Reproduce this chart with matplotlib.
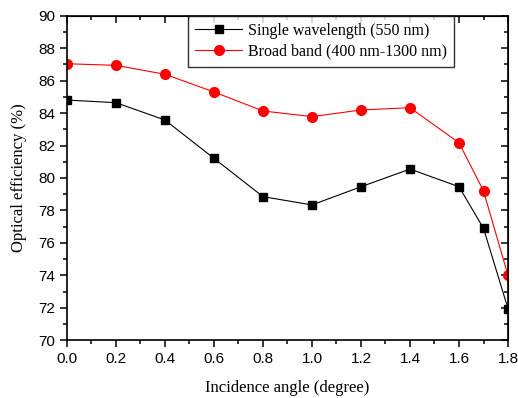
import matplotlib
matplotlib.use('Agg')
import matplotlib.pyplot as plt
from matplotlib.ticker import MultipleLocator

# incidence angle (degree)
angles = [0.0, 0.2, 0.4, 0.6, 0.8, 1.0, 1.2, 1.4, 1.6, 1.7, 1.8]
single_wl = [84.8, 84.64, 83.57, 81.21, 78.85, 78.34, 79.46, 80.55, 79.46, 76.9, 71.95]
broad_band = [87.04, 86.94, 86.39, 85.3, 84.13, 83.78, 84.19, 84.33, 82.17, 79.2, 74.0]

serif = 'Liberation Serif'
sans = 'Liberation Sans'

fig = plt.figure(figsize=(5.18, 3.98), dpi=100)
ax = fig.add_axes([0.1293, 0.145, 0.8514, 0.8156])

ax.plot(angles, single_wl, color='black', linewidth=0.8, marker='s', markersize=6,
        label='Single wavelength (550 nm)')
ax.plot(angles, broad_band, color='red', linewidth=0.8, marker='o', markersize=7,
        label='Broad band (400 nm-1300 nm)')

ax.set_xlim(0, 1.8)
ax.set_ylim(70, 90)
ax.xaxis.set_major_locator(MultipleLocator(0.2))
ax.xaxis.set_minor_locator(MultipleLocator(0.1))
ax.yaxis.set_major_locator(MultipleLocator(2))
ax.yaxis.set_minor_locator(MultipleLocator(1))

ax.tick_params(which='both', direction='out', top=False, right=False, width=1.1)
ax.tick_params(which='major', length=5, labelsize=11)
ax.tick_params(which='minor', length=3)
for lbl in ax.get_xticklabels() + ax.get_yticklabels():
    lbl.set_fontfamily(sans)

# inward ticks on top and right
sec_x = ax.secondary_xaxis('top')
sec_x.xaxis.set_major_locator(MultipleLocator(0.2))
sec_x.xaxis.set_minor_locator(MultipleLocator(0.1))
sec_x.tick_params(which='both', direction='in', labeltop=False, width=1.1)
sec_x.tick_params(which='major', length=5)
sec_x.tick_params(which='minor', length=3)
sec_y = ax.secondary_yaxis('right')
sec_y.yaxis.set_major_locator(MultipleLocator(2))
sec_y.yaxis.set_minor_locator(MultipleLocator(1))
sec_y.tick_params(which='both', direction='in', labelright=False, width=1.1)
sec_y.tick_params(which='major', length=5)
sec_y.tick_params(which='minor', length=3)

for s in ax.spines.values():
    s.set_linewidth(1.2)

ax.set_xlabel('Incidence angle (degree)', fontfamily=serif, fontsize=12, labelpad=10)
ax.set_ylabel('Optical efficiency (%)', fontfamily=serif, fontsize=12, labelpad=8)

leg = ax.legend(loc='upper left', bbox_to_anchor=(0.275, 1.0), prop={'family': serif, 'size': 11.5},
                frameon=True, fancybox=False, edgecolor='black', borderpad=0.45,
                handlelength=2.9, handletextpad=0.4, labelspacing=0.3, borderaxespad=0)
leg.get_frame().set_linewidth(1.0)

fig.savefig('out.png', dpi=100)
